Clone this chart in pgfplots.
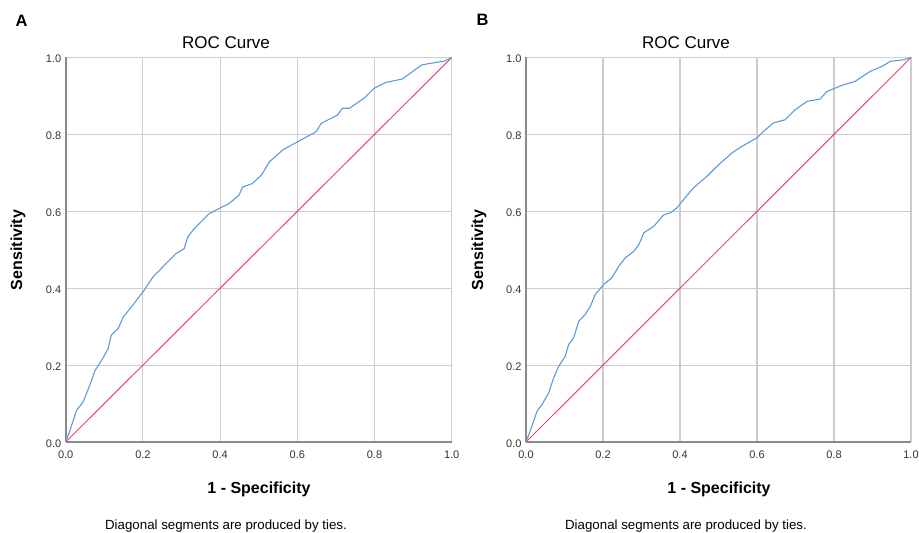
\documentclass[border=0pt]{standalone}
\usepackage{fontspec}
\setmainfont{Liberation Sans}
\usepackage{pgfplots}
\usepackage{pgfplotstable}
\pgfplotsset{compat=1.18}

\definecolor{roccurve}{HTML}{5B9BDB}
\definecolor{refline}{HTML}{E8476B}
\definecolor{gridgray}{HTML}{CDCDCD}
\definecolor{axisgray}{HTML}{8A8A8A}

% ROC points
\pgfplotstableread{
fpr tpr
0 0
0.011 0.030
0.028 0.082
0.045 0.104
0.054 0.126
0.067 0.160
0.076 0.186
0.093 0.212
0.110 0.243
0.118 0.278
0.136 0.295
0.149 0.325
0.170 0.351
0.200 0.390
0.226 0.429
0.260 0.464
0.286 0.490
0.307 0.503
0.316 0.533
0.333 0.555
0.372 0.594
0.397 0.607
0.423 0.620
0.449 0.642
0.458 0.663
0.483 0.672
0.507 0.694
0.528 0.729
0.563 0.760
0.601 0.781
0.649 0.807
0.662 0.829
0.704 0.850
0.717 0.868
0.735 0.868
0.773 0.894
0.799 0.920
0.829 0.935
0.872 0.944
0.898 0.963
0.923 0.981
0.958 0.987
0.979 0.990
1 1
}\rocA

\pgfplotstableread{
fpr tpr
0 0
0.011 0.029
0.020 0.055
0.029 0.081
0.042 0.098
0.059 0.128
0.072 0.167
0.085 0.197
0.102 0.223
0.111 0.254
0.124 0.271
0.137 0.314
0.154 0.332
0.167 0.353
0.180 0.384
0.202 0.410
0.223 0.427
0.241 0.457
0.258 0.479
0.280 0.496
0.293 0.513
0.306 0.544
0.332 0.561
0.358 0.591
0.375 0.596
0.392 0.609
0.413 0.635
0.435 0.661
0.470 0.691
0.496 0.717
0.535 0.752
0.561 0.769
0.600 0.791
0.617 0.808
0.643 0.830
0.673 0.838
0.699 0.864
0.730 0.886
0.764 0.892
0.782 0.912
0.825 0.929
0.855 0.938
0.894 0.964
0.925 0.977
0.946 0.990
0.981 0.994
1 1
}\rocB

\pgfplotsset{
  rocpanel/.style={
    scale only axis,
    height=384.5bp,
    anchor=south west,
    xmin=0, xmax=1, ymin=0, ymax=1,
    xtick={0,0.2,0.4,0.6,0.8,1},
    ytick={0,0.2,0.4,0.6,0.8,1},
    grid=major,
    major grid style={gridgray, line width=1.1bp},
    axis x line*=bottom,
    axis y line*=left,
    axis line style={axisgray, line width=1.6bp, -},
    major tick length=0pt,
    tick label style={font=\fontsize{11bp}{13bp}\selectfont, text=black!80},
    /pgf/number format/fixed,
    /pgf/number format/fixed zerofill,
    /pgf/number format/precision=1,
    /pgf/number format/assume math mode=true,
    xticklabel style={yshift=-5.5bp},
    yticklabel style={xshift=-1bp, yshift=-1.5bp},
  },
}

\newcommand{\titlefont}{\fontsize{17bp}{20bp}\selectfont}
\newcommand{\labfont}{\fontsize{16bp}{19bp}\selectfont\bfseries}
\newcommand{\notefont}{\fontsize{13.3bp}{16bp}\selectfont}

\begin{document}
\begin{tikzpicture}
\useasboundingbox (0,0) rectangle (919bp,533bp);

% panel A
\begin{axis}[rocpanel, width=386bp, at={(65.7bp,91bp)}]
\addplot[refline, line width=1bp] coordinates {(0,0) (1,1)};
\addplot[roccurve, line width=1.1bp] table[x=fpr, y=tpr] {\rocA};
\end{axis}

% panel B
\begin{axis}[rocpanel, width=385bp, at={(526bp,91bp)}]
\addplot[refline, line width=1bp] coordinates {(0,0) (1,1)};
\addplot[roccurve, line width=1.1bp] table[x=fpr, y=tpr] {\rocB};
\end{axis}

\node[anchor=base west, font=\fontsize{16.5bp}{19bp}\selectfont\bfseries] at (12bp,506bp) {A};
\node[anchor=base west, font=\fontsize{16.5bp}{19bp}\selectfont\bfseries] at (473bp,507bp) {B};

\node[anchor=base, font=\titlefont] at (226bp,484.7bp) {ROC Curve};
\node[anchor=base, font=\titlefont] at (686bp,484.7bp) {ROC Curve};

\node[anchor=base, font=\labfont] at (259bp,39.7bp) {1 - Specificity};
\node[anchor=base, font=\labfont] at (719bp,39.7bp) {1 - Specificity};

\node[rotate=90, font=\labfont] at (18bp,283bp) {Sensitivity};
\node[rotate=90, font=\labfont] at (479bp,283bp) {Sensitivity};

\node[anchor=base, font=\notefont] at (226bp,4bp) {Diagonal segments are produced by ties.};
\node[anchor=base, font=\notefont] at (686bp,4bp) {Diagonal segments are produced by ties.};
\end{tikzpicture}
\end{document}
